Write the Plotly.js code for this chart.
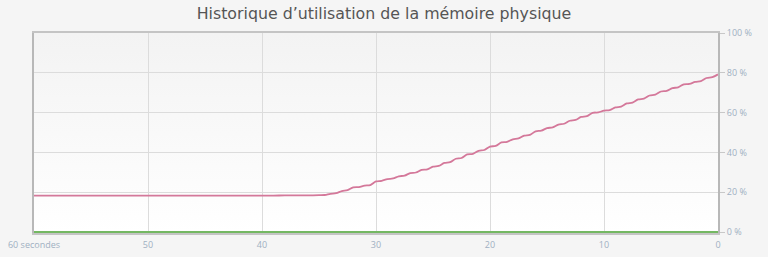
<!DOCTYPE html>
<html>
<head>
<meta charset="utf-8">
<script src="https://cdn.plot.ly/plotly-3.0.1.min.js"></script>
<style>html,body{margin:0;padding:0;background:#f5f5f5;}#chart{width:768px;height:257px;}</style>
</head>
<body>
<div id="chart"></div>
<script>
// Seconds ago (x) and physical memory usage in % (y)
var seconds = [60,59,58,57,56,55,54,53,52,51,50,49,48,47,46,45,44,43,42,41,40,39,38,37,36,
  35,34.5,34,33.5,33,32.5,32,31.5,31,30.5,30,29.5,29,28.5,28,27.5,27,26.5,26,25.5,25,24.5,24,23.5,23,22.5,22,21.5,21,20.5,20,
  19.5,19,18.5,18,17.5,17,16.5,16,15.5,15,14.5,14,13.5,13,12.5,12,11.5,11,10.5,10,
  9.5,9,8.5,8,7.5,7,6.5,6,5.5,5,4.5,4,3.5,3,2.5,2,1.5,1,0.5,0];
var memoryUsage = [18.3,18.3,18.3,18.3,18.3,18.3,18.3,18.3,18.3,18.3,18.3,18.3,18.3,18.3,18.3,18.3,18.3,18.3,18.3,18.3,18.3,18.3,18.4,18.4,18.4,
  18.5,18.6,19.2,19.5,20.6,21.0,22.4,22.6,23.3,23.6,25.4,25.7,26.6,26.9,28.0,28.3,29.6,29.9,31.2,31.5,32.8,33.2,34.7,35.1,36.8,37.2,39.0,39.3,40.8,41.2,42.9,
  43.3,45.0,45.3,46.6,47.0,48.4,48.8,50.6,50.9,52.2,52.6,54.0,54.4,55.9,56.3,57.8,58.2,59.9,60.1,61.0,
  61.3,62.6,63.0,64.6,65.0,66.6,67.0,68.6,69.0,70.6,70.9,72.3,72.7,74.2,74.4,75.4,75.8,77.4,77.8,79.2];
var swapSeconds = [60, 0];
var swapUsage = [0, 0];
var xTickVals = [60,50,40,30,20,10,0];
var xTickText = ['60 secondes','50','40','30','20','10','0'];
var yTickVals = [0,20,40,60,80,100];
var yTickText = ['0 %','20 %','40 %','60 %','80 %','100 %'];

var gradient = 'data:image/svg+xml;utf8,' + encodeURIComponent(
  '<svg xmlns="http://www.w3.org/2000/svg" width="10" height="100" preserveAspectRatio="none">' +
  '<defs><linearGradient id="g" x1="0" y1="0" x2="0" y2="1">' +
  '<stop offset="0" stop-color="#f3f3f3"/><stop offset="1" stop-color="#ffffff"/></linearGradient></defs>' +
  '<rect width="10" height="100" fill="url(#g)"/></svg>');

var traces = [
  {x: swapSeconds, y: swapUsage, type: 'scatter', mode: 'lines',
   line: {color: '#74b862', width: 2}, hoverinfo: 'skip'},
  {x: seconds, y: memoryUsage, type: 'scatter', mode: 'lines',
   line: {color: '#d4789a', width: 1.8, shape: 'spline', smoothing: 1}, hoverinfo: 'skip'}
];

var tickFont = {family: 'Open Sans, sans-serif', size: 9, color: '#9fb0c2'};
var layout = {
  width: 768, height: 257,
  margin: {l: 34, r: 50, t: 33, b: 24, pad: 0},
  paper_bgcolor: '#f5f5f5',
  plot_bgcolor: 'rgba(0,0,0,0)',
  showlegend: false,
  title: {text: 'Historique d\u2019utilisation de la mémoire physique',
          font: {family: 'DejaVu Sans, sans-serif', size: 15.8, color: '#555555'},
          x: 0.5, xanchor: 'center', y: 0.948, yanchor: 'middle'},
  images: [{source: gradient, xref: 'paper', yref: 'paper', x: 0, y: 1, sizex: 1, sizey: 1,
            xanchor: 'left', yanchor: 'top', sizing: 'stretch', layer: 'below'}],
  xaxis: {range: [60, 0], tickvals: xTickVals, ticktext: xTickText, tickfont: tickFont,
          showgrid: true, gridcolor: '#dcdcdc', gridwidth: 1, zeroline: false,
          showline: true, linecolor: '#c4c4c4', linewidth: 2, mirror: true,
          ticks: '', ticklabelstandoff: 2, fixedrange: true, layer: 'below traces'},
  yaxis: {range: [-0.5, 100], side: 'right', tickvals: yTickVals, ticktext: yTickText, tickfont: tickFont,
          showgrid: true, gridcolor: '#dcdcdc', gridwidth: 1, zeroline: false,
          showline: true, linecolor: '#b8b8b8', linewidth: 2, mirror: true,
          ticks: 'outside', ticklen: 5, tickcolor: '#c8c8c8', tickwidth: 1, fixedrange: true, layer: 'below traces'}
};
Plotly.newPlot('chart', traces, layout, {displayModeBar: false, staticPlot: true});
</script>
</body>
</html>
